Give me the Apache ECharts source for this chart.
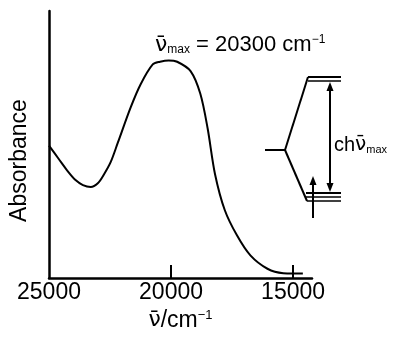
<!DOCTYPE html>
<html>
<head>
<meta charset="utf-8">
<script src="https://cdn.jsdelivr.net/npm/echarts@6/dist/echarts.min.js"></script>
<style>
  html, body { margin: 0; padding: 0; background: #fff; }
  #chart { width: 395px; height: 337px; }
</style>
</head>
<body>
<div id="chart"></div>
<script>
// spectrum (wavenumber in cm^-1, absorbance in arbitrary units)
const wavenumbers = [25000, 24600, 24220, 23900, 23610, 23290, 23000, 22750, 22470, 22180,
  21650, 21250, 20750, 20450, 20100, 19750, 19200, 18800, 18500, 18200,
  17800, 17300, 16750, 16050, 15400, 15000, 14600];
const absorbance = [0.496, 0.446, 0.399, 0.366, 0.348, 0.341, 0.355, 0.388, 0.435, 0.507,
  0.64, 0.725, 0.80, 0.81, 0.815, 0.81, 0.775, 0.69, 0.56, 0.39,
  0.255, 0.16, 0.085, 0.035, 0.018, 0.017, 0.017];
const tickLabels = [25000, 20000, 15000];
const tickMarks = [20000, 15000];

const FONT = "'Liberation Sans', Arial, sans-serif";
const NU_FONT = "'DejaVu Sans', sans-serif";
const black = '#000';

const chart = echarts.init(document.getElementById('chart'), null, { renderer: 'canvas' });

const seriesData = wavenumbers.map((w, i) => [w, absorbance[i]]);

// crystal-field splitting sketch on the right
const line = (x1, y1, x2, y2, w) => ({
  type: 'line',
  shape: { x1, y1, x2, y2 },
  style: { stroke: black, lineWidth: w || 2 }
});
// dir = 1 points up, -1 points down; (x, y) is the tip
const head = (x, y, dir) => ({
  type: 'polygon',
  shape: { points: [[x, y], [x - 3.5, y + dir * 9], [x + 3.5, y + dir * 9]] },
  style: { fill: black }
});

const diagram = [
  line(265, 150, 285, 150),
  line(285, 150, 308, 77),
  line(285, 150, 307, 201),
  line(308, 77, 341, 77),
  line(308, 81, 341, 81, 1.5),
  line(306, 193, 341, 193),
  line(306, 197, 341, 197, 1.5),
  line(307, 201, 341, 201, 1.5),
  line(330, 88, 330, 186),
  head(330, 82, 1),
  head(330, 192, -1),
  line(313, 184, 313, 218),
  head(313, 176, 1),
  {
    type: 'text', x: 334, y: 135,
    style: {
      text: '{a|ch}{n|ν̄}{m|max}',
      rich: {
        a: { fontSize: 20, fontFamily: FONT, fill: black },
        n: { fontSize: 20, fontFamily: NU_FONT, fill: black },
        m: { fontSize: 11, fontFamily: FONT, fill: black, verticalAlign: 'bottom' }
      }
    }
  }
];

const option = {
  backgroundColor: '#fff',
  animation: false,
  title: {
    left: 150,
    top: 29,
    text: '{n|ν̄}{m|max}{t| = 20300 cm}{s|−1}',
    textStyle: {
      fontFamily: FONT,
      fontWeight: 'normal',
      color: black,
      rich: {
        n: { fontSize: 22, fontFamily: NU_FONT, color: black },
        m: { fontSize: 12, fontFamily: FONT, color: black, verticalAlign: 'bottom' },
        t: { fontSize: 22, fontFamily: FONT, color: black },
        s: { fontSize: 12, fontFamily: FONT, color: black, verticalAlign: 'top' }
      }
    }
  },
  grid: { left: 48, right: 83, top: 11, bottom: 50 },
  xAxis: {
    type: 'value',
    inverse: true,
    min: 14225,
    max: 25000,
    splitLine: { show: false },
    axisLine: { show: true, onZero: false, lineStyle: { color: black, width: 2.5 } },
    axisTick: {
      show: true,
      inside: true,
      length: 13,
      customValues: tickMarks,
      lineStyle: { color: black, width: 2 }
    },
    axisLabel: {
      customValues: tickLabels,
      formatter: (v) => String(v),
      fontSize: 23,
      fontFamily: FONT,
      color: black,
      margin: 3
    },
    name: '{n|ν̄}{a|/cm}{s|−1}',
    nameLocation: 'middle',
    nameGap: 30,
    nameTextStyle: {
      fontFamily: FONT,
      color: black,
      rich: {
        n: { fontSize: 22, fontFamily: NU_FONT, color: black },
        a: { fontSize: 23, fontFamily: FONT, color: black },
        s: { fontSize: 13, fontFamily: FONT, color: black, verticalAlign: 'top' }
      }
    }
  },
  yAxis: {
    type: 'value',
    min: 0,
    max: 1,
    splitLine: { show: false },
    axisLine: { show: true, onZero: false, lineStyle: { color: black, width: 2.5 } },
    axisTick: { show: false },
    axisLabel: { show: false },
    name: 'Absorbance',
    nameLocation: 'middle',
    nameGap: 18,
    nameTextStyle: { fontSize: 23, fontFamily: FONT, color: black, padding: [0, 32, 0, 0] }
  },
  graphic: diagram,
  series: [
    {
      type: 'line',
      data: seriesData,
      smooth: 0.3,
      symbol: 'none',
      clip: false,
      lineStyle: { color: black, width: 2 }
    }
  ]
};

chart.setOption(option);
</script>
</body>
</html>
